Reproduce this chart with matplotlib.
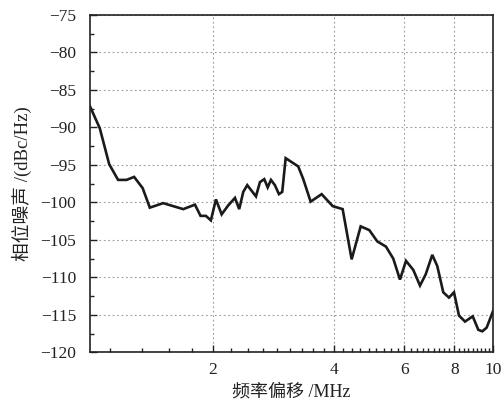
import numpy as np
import matplotlib
matplotlib.use("Agg")
import matplotlib.pyplot as plt
from matplotlib.ticker import FixedLocator, FixedFormatter, MultipleLocator, NullFormatter

# frequency offset (MHz) and phase noise (dBc/Hz)
freq_mhz = [0.99, 1.047, 1.105, 1.163, 1.221, 1.275, 1.339, 1.395, 1.506, 1.595,
            1.690, 1.807, 1.866, 1.924, 1.980, 2.038, 2.106, 2.187, 2.273, 2.329,
            2.384, 2.439, 2.564, 2.623, 2.689, 2.742, 2.794, 2.858, 2.925, 2.981,
            3.040, 3.267, 3.363, 3.508, 3.737, 3.981, 4.215, 4.438, 4.674, 4.911,
            5.140, 5.403, 5.634, 5.855, 6.061, 6.318, 6.568, 6.786, 7.047, 7.252,
            7.506, 7.755, 7.981, 8.213, 8.502, 8.886, 9.176, 9.389, 9.627, 10.0]
noise_dbc = [-87.2, -90.1, -94.9, -97.0, -97.0, -96.6, -98.1, -100.7, -100.1, -100.5,
             -100.9, -100.3, -101.8, -101.8, -102.4, -99.6, -101.6, -100.4, -99.4, -100.9,
             -98.6, -97.7, -99.2, -97.3, -96.9, -98.0, -97.0, -97.7, -98.9, -98.6,
             -94.1, -95.2, -96.9, -99.9, -98.9, -100.5, -100.9, -107.6, -103.2, -103.7,
             -105.2, -105.9, -107.5, -110.3, -107.8, -109.0, -111.1, -109.6, -107.0, -108.5,
             -112.0, -112.7, -112.0, -115.1, -115.9, -115.2, -117.0, -117.2, -116.7, -114.4]

x_ticks = [2, 4, 6, 8, 10]
y_ticks = [-120, -115, -110, -105, -100, -95, -90, -85, -80, -75]

num_font = "Liberation Serif"
label_fonts = ["Liberation Serif", "Noto Sans CJK SC"]
ink = "#222222"

fig = plt.figure(figsize=(5.02, 4.12), dpi=100)
ax = fig.add_axes([0.1793, 0.1449, 0.8034, 0.8187])

ax.plot(freq_mhz, noise_dbc, color="#1a1a1a", lw=1.9, solid_joinstyle="miter")

ax.set_xscale("log")
ax.set_xlim(0.99, 10)
ax.set_ylim(-120, -75)

ax.xaxis.set_major_locator(FixedLocator(x_ticks))
ax.xaxis.set_major_formatter(FixedFormatter([str(t) for t in x_ticks]))
# minor ticks sit on multiples of 2/9 MHz in the reference
minor_x = [n * 2 / 9 for n in range(5, 45) if n % 9 != 0]
ax.xaxis.set_minor_locator(FixedLocator(minor_x))
ax.xaxis.set_minor_formatter(NullFormatter())

ax.yaxis.set_major_locator(FixedLocator(y_ticks))
ax.yaxis.set_minor_locator(MultipleLocator(2.5))

ax.tick_params(which="both", direction="in", top=False, right=False,
               width=1.0, color=ink)
ax.tick_params(which="major", length=5, labelsize=12.5)
ax.tick_params(axis="x", which="major", pad=7)
ax.tick_params(axis="y", which="major", pad=10)
ax.tick_params(which="minor", length=3)
for lab in ax.get_xticklabels() + ax.get_yticklabels():
    lab.set_fontfamily(num_font)
    lab.set_color(ink)

for s in ax.spines.values():
    s.set_linewidth(1.2)
    s.set_color(ink)

ax.grid(True, which="major", linestyle=(0, (1.5, 2.5)), color="#999999", lw=0.8)

ax.set_xlabel("频率偏移 /MHz", family=label_fonts, fontsize=13, color=ink,
              labelpad=4)
ax.set_ylabel("相位噪声 /(dBc/Hz)", family=label_fonts, fontsize=13.5, color=ink,
              labelpad=6)

fig.savefig("out.png", dpi=100)
